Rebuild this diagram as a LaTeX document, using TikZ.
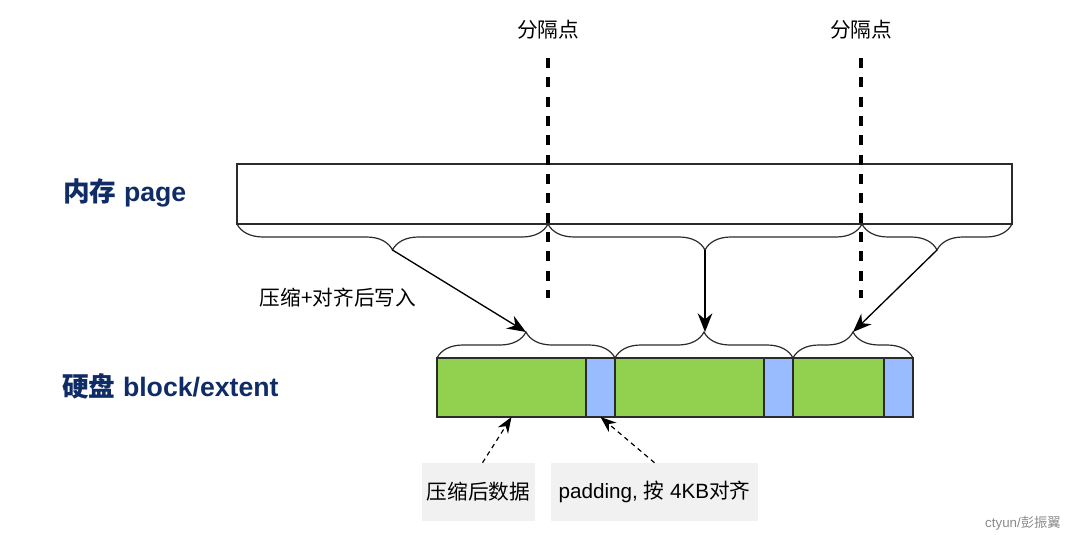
\documentclass[tikz,border=0pt]{standalone}
\usepackage{fontspec}
\setmainfont{Liberation Sans}
\newfontfamily\cjk{Noto Sans CJK SC}
\usetikzlibrary{arrows.meta,positioning,calc,decorations.pathreplacing}
\definecolor{navy}{HTML}{102C66}
\definecolor{leaf}{HTML}{92D050}
\definecolor{sky}{HTML}{99BBFF}
\definecolor{paper}{HTML}{F1F1F1}
\definecolor{edge}{HTML}{2B2B2B}
\definecolor{muted}{HTML}{8A8A8A}
\tikzset{
  memrect/.style={rectangle,draw=edge,line width=0.9pt,minimum width=581.25pt,minimum height=45pt,inner sep=0pt,outer sep=0pt},
  datablk/.style={rectangle,draw=edge,line width=0.9pt,fill=leaf,minimum height=44.25pt,inner sep=0pt,outer sep=0pt},
  padblk/.style={datablk,fill=sky,minimum width=21.75pt},
  membrace/.style={draw=edge,line width=0.9pt,decorate,decoration={brace,mirror,amplitude=19.5pt,aspect=0.5}},
  diskbrace/.style={draw=edge,line width=0.9pt,decorate,decoration={brace,amplitude=19.5pt,aspect=0.5}},
  cutline/.style={black,line width=2.6pt,dash pattern=on 7.5pt off 7pt},
  writearrow/.style={line width=1pt,black,arrows={-Stealth[length=14pt,width=11pt]}},
  notearrow/.style={line width=0.9pt,black,dash pattern=on 3.5pt off 3pt,arrows={-Stealth[length=12pt,width=9pt]}},
  notebox/.style={rectangle,fill=paper,minimum height=43.5pt,inner sep=0pt,font=\fontsize{15.5}{18}\selectfont},
  rowlabel/.style={anchor=west,text=navy,font=\fontsize{20}{24}\selectfont\bfseries,inner sep=0pt},
  plain/.style={font=\fontsize{15.5}{18}\selectfont,inner sep=0pt}
}
\begin{document}
\begin{tikzpicture}[x=0.75pt,y=-0.75pt]
    \useasboundingbox (0,0) rectangle (1068,535);

    % cut points
    \node[plain] (cut1) at (548,30) {\cjk 分隔点};
    \node[plain] (cut2) at (861,30) {\cjk 分隔点};
    \coordinate (cut1a) at (548,58);
    \coordinate (cut1b) at (548,298);
    \coordinate (cut2a) at (861,58);
    \coordinate (cut2b) at (861,298);

    % memory page
    \node[rowlabel] (memlabel) at (63,193) {{\cjk 内存} page};
    \node[memrect] (mem) at (624.5,194) {};
    \coordinate (m0) at (237,224);
    \coordinate (m1) at (548,224);
    \coordinate (m2) at (862,224);
    \coordinate (m3) at (1012,224);
    \draw[membrace] (m0) -- (m1);
    \draw[membrace] (m1) -- (m2);
    \draw[membrace] (m2) -- (m3);
    \coordinate (mtip1) at (392.5,250);
    \coordinate (mtip2) at (705,250);
    \coordinate (mtip3) at (937,250);

    % disk blocks
    \node[rowlabel] (disklabel) at (62,386) {{\cjk 硬盘} block/extent};
    \node[datablk,minimum width=111.75pt] (d1) at (511.5,387.5) {};
    \node[padblk,right=0pt of d1] (p1) {};
    \node[datablk,minimum width=111.75pt,right=0pt of p1] (d2) {};
    \node[padblk,right=0pt of d2] (p2) {};
    \node[datablk,minimum width=68.25pt,right=0pt of p2] (d3) {};
    \node[padblk,right=0pt of d3] (p3) {};
    \draw[diskbrace] (d1.north west) -- (p1.north east);
    \draw[diskbrace] (d2.north west) -- (p2.north east);
    \draw[diskbrace] (d3.north west) -- (p3.north east);
    \coordinate (dtip1) at ($(d1.north west)!0.5!(p1.north east)+(0,-26)$);
    \coordinate (dtip2) at (705,332);
    \coordinate (dtip3) at (853,332);

    \draw[cutline] (cut1a) -- (cut1b);
    \draw[cutline] (cut2a) -- (cut2b);

    % write path
    \draw[writearrow] (mtip1) -- (dtip1);
    \draw[writearrow] (mtip2) -- (dtip2);
    \draw[writearrow] (mtip3) -- (dtip3);
    \node[plain] (writelabel) at (338,298) {\cjk 压缩+对齐后写入};

    % notes
    \node[notebox,minimum width=84.75pt] (note1) at (478.5,492) {\cjk 压缩后数据};
    \node[notebox,minimum width=155.25pt] (note2) at (654.5,492) {padding, {\cjk 按} 4KB{\cjk 对齐}};
    \draw[notearrow] ([xshift=3pt]note1.north) -- (d1.south);
    \draw[notearrow] (note2.north) -- (p1.south);

    \node[plain,text=muted,font=\fontsize{10}{12}\selectfont] (mark) at (1023,523) {ctyun/{\cjk 彭振翼}};
  \end{tikzpicture}
\end{document}
